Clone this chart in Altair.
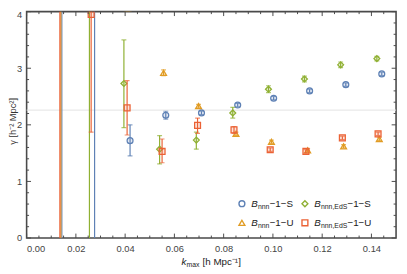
import altair as alt
import pandas as pd

# ---------------- data ----------------
series_names = ["B_nnn-1-S", "B_nnn-1-U", "B_nnn,EdS-1-S", "B_nnn,EdS-1-U"]
series_colors = ["#5E81B5", "#E19C24", "#8FB032", "#EB6235"]
series_shapes = ["circle", "triangle-up", "diamond", "square"]

# B_nnn-1-S (blue circles)
k_S = [0.0143, 0.0276, 0.0420, 0.0565, 0.0710, 0.0857, 0.1003, 0.1149, 0.1296, 0.1442]
g_S = [8.0, 8.0, 1.72, 2.17, 2.21, 2.35, 2.47, 2.60, 2.71, 2.90]
lo_S = [-20.0, -20.0, 1.45, 2.10, 2.18, 2.32, 2.44, 2.57, 2.68, 2.87]
hi_S = [30.0, 30.0, 2.00, 2.24, 2.24, 2.38, 2.50, 2.63, 2.74, 2.93]

# B_nnn-1-U (orange triangles)
k_U = [0.0139, 0.0411, 0.0556, 0.0698, 0.0850, 0.0994, 0.1141, 0.1287, 0.1432]
g_U = [8.0, 4.06, 2.92, 2.33, 1.84, 1.70, 1.55, 1.62, 1.75]
lo_U = [-20.0, 4.01, 2.87, 2.30, 1.81, 1.67, 1.52, 1.59, 1.72]
hi_U = [30.0, 4.11, 2.97, 2.36, 1.87, 1.73, 1.58, 1.65, 1.78]

# B_nnn,EdS-1-S (green diamonds)
k_ES = [0.0255, 0.0395, 0.0540, 0.0689, 0.0837, 0.0982, 0.1128, 0.1275, 0.1422]
g_ES = [8.0, 2.73, 1.57, 1.73, 2.21, 2.63, 2.81, 3.06, 3.17]
lo_ES = [-20.0, 1.95, 1.31, 1.57, 2.12, 2.57, 2.76, 3.01, 3.13]
hi_ES = [30.0, 3.50, 1.81, 1.87, 2.31, 2.69, 2.86, 3.11, 3.21]

# B_nnn,EdS-1-U (red squares)
k_EU = [0.0135, 0.0262, 0.0408, 0.0550, 0.0694, 0.0842, 0.0989, 0.1134, 0.1282, 0.1427]
g_EU = [8.0, 3.95, 2.30, 1.53, 1.99, 1.91, 1.56, 1.53, 1.77, 1.84]
lo_EU = [-20.0, 1.87, 1.82, 1.33, 1.85, 1.85, 1.53, 1.50, 1.74, 1.81]
hi_EU = [30.0, 8.0, 2.78, 1.75, 2.12, 1.97, 1.59, 1.56, 1.80, 1.87]

ref_gamma = 2.26

x_major = [0.00, 0.02, 0.04, 0.06, 0.08, 0.10, 0.12, 0.14]
x_minor = [0.005, 0.01, 0.015, 0.025, 0.03, 0.035, 0.045, 0.05, 0.055, 0.065, 0.07,
           0.075, 0.085, 0.09, 0.095, 0.105, 0.11, 0.115, 0.125, 0.13, 0.135, 0.145]
y_major = [0, 1, 2, 3, 4]
y_minor = [0.2, 0.4, 0.6, 0.8, 1.2, 1.4, 1.6, 1.8, 2.2, 2.4, 2.6, 2.8, 3.2, 3.4, 3.6, 3.8]

# ---------------- layout ----------------
W, H = 377, 231
FRAME = "#4a4a4a"
LABEL = "#444444"
FONT = "Liberation Sans"

xs = alt.Scale(domain=[0, 0.15], nice=False, zero=False)
ys = alt.Scale(domain=[0, 4], nice=False, zero=False)

x_axis = alt.Axis(values=x_major, format=".2f", domain=False, ticks=False, grid=False,
                  labelFontSize=9.5, labelColor=LABEL, labelFont=FONT, labelPadding=6,
                  title=None)
y_axis = alt.Axis(values=y_major, format="d", domain=False, ticks=False, grid=False,
                  labelFontSize=9.5, labelColor=LABEL, labelFont=FONT, labelPadding=5,
                  labelOffset={"condition": {"test": "datum.value == 4", "value": 3}, "value": 0},
                  title="γ [h⁻² Mpc²]", titleFont=FONT, titleFontSize=9.5,
                  titleFontWeight="normal", titleColor="#333333",
                  titleX=-14, titleY=H / 2 - 4, titleAngle=270, titleAlign="center",
                  titleBaseline="middle")

all_data = [
    (k_S, g_S, lo_S, hi_S),
    (k_U, g_U, lo_U, hi_U),
    (k_ES, g_ES, lo_ES, hi_ES),
    (k_EU, g_EU, lo_EU, hi_EU),
]

layers = []

# reference line
layers.append(
    alt.Chart(pd.DataFrame({"g": [ref_gamma]}))
    .mark_rule(color="#e2e2e2", strokeWidth=1)
    .encode(y=alt.Y("g:Q", scale=ys, axis=y_axis))
)

for i, (kk, gg, lo, hi) in enumerate(all_data):
    c = series_colors[i]
    df = pd.DataFrame({"k": kk, "g": gg, "lo": lo, "hi": hi})
    base = alt.Chart(df)
    layers.append(
        base.mark_rule(color=c, strokeWidth=1.2, clip=True).encode(
            x=alt.X("k:Q", scale=xs, axis=x_axis),
            y=alt.Y("lo:Q", scale=ys, axis=y_axis),
            y2="hi:Q",
        )
    )
    for col in ["lo", "hi"]:
        layers.append(
            base.mark_tick(orient="horizontal", size=5, thickness=1.2, color=c, clip=True).encode(
                x=alt.X("k:Q", scale=xs, axis=x_axis),
                y=alt.Y(f"{col}:Q", scale=ys, axis=y_axis),
            )
        )
    layers.append(
        base.mark_point(shape=series_shapes[i], filled=True, fill=c, fillOpacity=0.18,
                        stroke=c, strokeWidth=1.3, size=36, opacity=1, clip=True).encode(
            x=alt.X("k:Q", scale=xs, axis=x_axis),
            y=alt.Y("g:Q", scale=ys, axis=y_axis),
        )
    )

# frame ticks (inward, all four sides)
def xticks(vals, length):
    d = alt.Chart(pd.DataFrame({"v": vals}))
    enc = dict(x=alt.X("v:Q", scale=xs, axis=x_axis))
    return [
        d.mark_rule(color=FRAME, strokeWidth=1).encode(y=alt.value(H), y2=alt.value(H - length), **enc),
        d.mark_rule(color=FRAME, strokeWidth=1).encode(y=alt.value(0), y2=alt.value(length), **enc),
    ]

def yticks(vals, length):
    d = alt.Chart(pd.DataFrame({"v": vals}))
    enc = dict(y=alt.Y("v:Q", scale=ys, axis=y_axis))
    return [
        d.mark_rule(color=FRAME, strokeWidth=1).encode(x=alt.value(0), x2=alt.value(length), **enc),
        d.mark_rule(color=FRAME, strokeWidth=1).encode(x=alt.value(W), x2=alt.value(W - length), **enc),
    ]

layers += xticks(x_major, 4.5) + xticks(x_minor, 2.5) + yticks(y_major, 4.5) + yticks(y_minor, 2.5)

# ---------------- legend (inside, bottom right) ----------------
def text_seg(x, y, s, size=10, style="normal"):
    return alt.Chart(pd.DataFrame({"a": [0]})).mark_text(
        align="left", baseline="middle", font=FONT, fontSize=size, fontStyle=style,
        color="#222222").encode(x=alt.value(x), y=alt.value(y), text=alt.value(s))

legend_pos = [(219.7, 196), (219.7, 215.5), (284.0, 196), (284.0, 215.5)]
legend_sub = ["nnn", "nnn", "nnn,EdS", "nnn,EdS"]
legend_tail = ["−1−S", "−1−U", "−1−S", "−1−U"]
sub_w = [11.9, 11.9, 27.0, 27.0]
for i in range(4):
    mx, my = legend_pos[i]
    c = series_colors[i]
    layers.append(
        alt.Chart(pd.DataFrame({"a": [0]})).mark_point(
            shape=series_shapes[i], filled=True, fill="white", stroke=c,
            strokeWidth=1.4, size=36, opacity=1).encode(x=alt.value(mx), y=alt.value(my))
    )
    tx = mx + 9.5
    layers.append(text_seg(tx, my, "B", 10, "italic"))
    layers.append(text_seg(tx + 6.9, my + 3, legend_sub[i], 7))
    layers.append(text_seg(tx + 6.9 + sub_w[i], my, legend_tail[i], 10))

# ---------------- x-axis title ----------------
tx0 = 158
ty0 = H + 25
layers.append(text_seg(tx0, ty0, "k", 10, "italic"))
layers.append(text_seg(tx0 + 5.2, ty0 + 3, "max", 7))
layers.append(text_seg(tx0 + 21.5, ty0, "[h Mpc⁻¹]", 10))

chart = alt.layer(*layers).properties(
    width=W, height=H,
    background="white",
    autosize=alt.AutoSizeParams(type="none"),
    padding={"left": 19, "top": 1, "right": 3, "bottom": 34},
).configure_view(stroke=FRAME, strokeWidth=1.6)

chart.save("out.html", embed_options={"renderer": "svg", "actions": False})
